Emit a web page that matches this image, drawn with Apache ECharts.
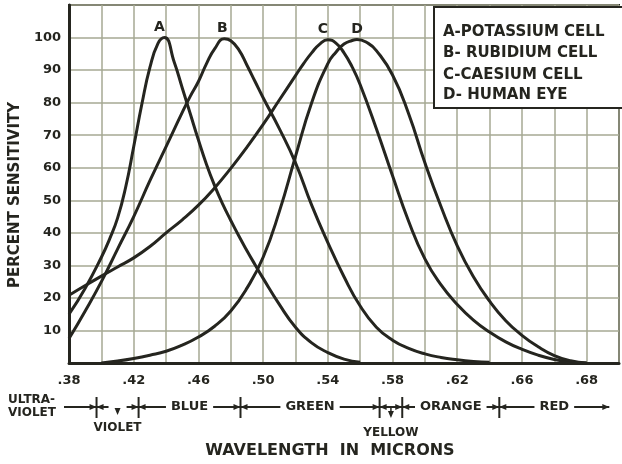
<!DOCTYPE html>
<html>
<head>
<meta charset="utf-8">
<script src="https://cdn.jsdelivr.net/npm/echarts@6/dist/echarts.min.js"></script>
<style>
  html, body { margin: 0; padding: 0; background: #fff; }
  #chart { width: 622px; height: 464px; }
</style>
</head>
<body>
<div id="chart"></div>
<script>
// [wavelength in microns, percent sensitivity]
const potassium = [
  [0.38, 15], [0.39, 23], [0.40, 32.5], [0.405, 38], [0.41, 44.5], [0.415, 54],
  [0.42, 66.5], [0.425, 79.5], [0.43, 90.8], [0.435, 98.2], [0.439, 100], [0.445, 92.5],
  [0.45, 84.5], [0.455, 76.5], [0.46, 68.5], [0.465, 61], [0.47, 54.5], [0.475, 48.8],
  [0.48, 43.8], [0.485, 39], [0.49, 34.5], [0.495, 30.2], [0.50, 26], [0.51, 18],
  [0.52, 11], [0.53, 6.2], [0.54, 3.2], [0.55, 1.2], [0.56, 0.2]
]
const rubidium = [
  [0.38, 7.5], [0.39, 16], [0.40, 25], [0.41, 35], [0.42, 45], [0.43, 56],
  [0.44, 66.5], [0.45, 77], [0.455, 82], [0.46, 86.5], [0.465, 92], [0.47, 96.5],
  [0.476, 99.6], [0.48, 99], [0.485, 96.2], [0.49, 91.5], [0.495, 86.5], [0.50, 81.5],
  [0.51, 72], [0.52, 61.5], [0.53, 48.5], [0.54, 37], [0.55, 26.5], [0.56, 17.5],
  [0.57, 11], [0.58, 7], [0.59, 4.5], [0.60, 2.8], [0.61, 1.7], [0.62, 1],
  [0.63, 0.5], [0.64, 0.2]
]
const caesium = [
  [0.38, 20.8], [0.39, 23.8], [0.40, 26.7], [0.41, 29.5], [0.42, 32.3], [0.43, 35.8],
  [0.44, 40], [0.45, 44], [0.46, 48.5], [0.47, 53.8], [0.48, 59.8], [0.49, 66.3],
  [0.50, 73.3], [0.51, 80.8], [0.52, 88.3], [0.525, 92], [0.53, 95.3], [0.535, 98],
  [0.54, 99.3], [0.545, 98.3], [0.55, 95.3], [0.555, 91], [0.56, 85.5], [0.57, 72],
  [0.58, 57.5], [0.59, 43.5], [0.60, 32], [0.61, 24], [0.62, 18], [0.63, 13.2],
  [0.64, 9.5], [0.65, 6.5], [0.66, 4.2], [0.67, 2.4], [0.68, 1.1], [0.69, 0.3], [0.70, 0]
]
const humanEye = [
  [0.40, 0], [0.41, 0.6], [0.42, 1.4], [0.43, 2.4], [0.44, 3.6], [0.45, 5.5],
  [0.46, 8], [0.47, 11.3], [0.48, 16], [0.49, 23], [0.50, 32.5], [0.51, 46.5],
  [0.52, 63.5], [0.53, 80], [0.54, 92], [0.545, 95.5], [0.55, 98], [0.555, 99.1],
  [0.558, 99.4], [0.565, 98.2], [0.57, 96], [0.58, 88.5], [0.59, 76.5], [0.60, 61.5],
  [0.61, 48], [0.62, 36], [0.63, 26.5], [0.64, 19], [0.65, 13], [0.66, 8.5],
  [0.67, 5], [0.68, 2.3], [0.69, 0.7], [0.70, 0]
]

const curveLetters = ['A', 'B', 'C', 'D']
const legendLines = ['A-POTASSIUM CELL', 'B- RUBIDIUM CELL', 'C-CAESIUM CELL', 'D- HUMAN EYE']
// printed under every other grid line, starting at .38 (the last one is printed .68 on the plate)
const xTickLabels = ['.38', '.42', '.46', '.50', '.54', '.58', '.62', '.66', '.68']

// colour bands along the bottom, wavelengths of the boundary marks
const bandEdges = [0.397, 0.423, 0.486, 0.572, 0.586, 0.646]
const bandNames = ['BLUE', 'GREEN', 'ORANGE', 'RED']
const bandFrom = [0.423, 0.486, 0.586, 0.646]
const bandTo = [0.486, 0.572, 0.646, 0.714]

const ink = '#25251f'
const gridInk = '#a6a893'
const font = 'DejaVu Sans'

const chart = echarts.init(document.getElementById('chart'))

const labelOffsets = [[-5, 0], [-2, 0], [-5, 0], [0, 0]]
const allData = [potassium, rubidium, caesium, humanEye]

const option = {
  animation: false,
  backgroundColor: '#fff',
  grid: {
    left: 66,
    top: 5,
    width: 563,
    height: 358,
    show: true,
    borderColor: ink,
    borderWidth: 2,
  },
  xAxis: {
    type: 'value',
    min: 0.38,
    max: 0.72,
    interval: 0.02,
    axisLine: { show: true, onZero: false, lineStyle: { color: ink, width: 3 } },
    axisTick: { show: false },
    splitLine: { show: true, lineStyle: { color: gridInk, width: 1.5 } },
    axisLabel: {
      color: ink,
      fontSize: 13,
      fontWeight: 'bold',
      fontFamily: font,
      margin: 11,
      showMinLabel: true,
      showMaxLabel: true,
      formatter: (v) => {
        const k = Math.round((v - 0.38) / 0.02)
        return k % 2 === 0 ? xTickLabels[k / 2] || '' : ''
      },
    },
  },
  yAxis: {
    type: 'value',
    min: 0,
    max: 110,
    interval: 10,
    name: 'PERCENT SENSITIVITY',
    nameLocation: 'middle',
    nameGap: 41,
    nameRotate: 90,
    nameTextStyle: { color: ink, fontSize: 15, fontWeight: 'bold', fontFamily: font, padding: [0, 22, 0, 0] },
    axisLine: { show: true, lineStyle: { color: ink, width: 3 } },
    axisTick: { show: false },
    splitLine: { show: true, lineStyle: { color: gridInk, width: 1.5 } },
    axisLabel: {
      color: ink,
      fontSize: 13,
      fontWeight: 'bold',
      fontFamily: font,
      margin: 8,
      formatter: (v) => (v > 0 && v <= 100 ? String(v) : ''),
    },
  },
  series: allData.map((data, i) => ({
    name: legendLines[i],
    type: 'line',
    data,
    showSymbol: false,
    smooth: 0.5,
    lineStyle: { color: ink, width: 3 },
    markPoint: {
      symbol: 'circle',
      symbolSize: 2,
      itemStyle: { color: 'rgba(0,0,0,0)' },
      label: {
        show: true,
        formatter: curveLetters[i],
        position: 'top',
        distance: 2,
        offset: labelOffsets[i],
        color: ink,
        fontSize: 14,
        fontWeight: 'bold',
        fontFamily: font,
      },
      data: [{ type: 'max', valueDim: 'y' }],
    },
  })),
}

chart.setOption(option)

// legend box and colour bands drawn on top
const rowY = 407
const px = (w) => chart.convertToPixel({ gridIndex: 0 }, [w, 0])[0]
const line = (x1, y1, x2, y2, w) => ({
  type: 'line',
  shape: { x1, y1, x2, y2 },
  style: { stroke: ink, lineWidth: w || 2 },
  silent: true,
})
const tri = (x, y, dx, dy) => ({
  type: 'polygon',
  shape: { points: [[x, y], [x - dx * 7 - dy * 3, y - dy * 7 - dx * 3], [x - dx * 7 + dy * 3, y - dy * 7 + dx * 3]] },
  style: { fill: ink },
  silent: true,
})
const txt = (text, x, y, size, align, bg) => ({
  type: 'text',
  x,
  y,
  z: 10,
  style: {
    text,
    fill: ink,
    fontSize: size,
    fontWeight: 'bold',
    fontFamily: font,
    align,
    verticalAlign: 'middle',
    backgroundColor: bg ? '#fff' : undefined,
    padding: bg ? [0, 5] : 0,
  },
  silent: true,
})

const edges = bandEdges.map(px)
const els = []

// legend
els.push({
  type: 'rect',
  shape: { x: 434, y: 7, width: 200, height: 101 },
  style: { fill: '#fff', stroke: ink, lineWidth: 2 },
  silent: true,
})
legendLines.forEach((t, i) => els.push(txt(t, 443, [32, 53, 75, 95][i], 15, 'left')))

// ultra-violet
els.push(txt('ULTRA-', 8, 400, 12, 'left'))
els.push(txt('VIOLET', 8, 413, 12, 'left'))
els.push(line(64, rowY, edges[0], rowY))

// boundary marks: tick with arrows pointing in from both sides
edges.forEach((e) => {
  els.push(line(e, rowY - 10, e, rowY + 11))
  els.push(line(e - 12, rowY, e + 12, rowY))
  els.push(tri(e, rowY, 1, 0))
  els.push(tri(e, rowY, -1, 0))
})

// named bands
bandNames.forEach((name, i) => {
  const a = px(bandFrom[i])
  const b = px(bandTo[i])
  els.push(line(a, rowY, b, rowY))
  els.push(txt(name, (a + b) / 2, rowY, 13, 'center', true))
})
els.push(tri(px(bandTo[3]), rowY, 1, 0))

// narrow bands labelled underneath
const violetX = (edges[0] + edges[1]) / 2
els.push(tri(violetX, rowY + 8, 0, 1))
els.push(txt('VIOLET', violetX, 428, 12, 'center'))
const yellowX = (edges[3] + edges[4]) / 2
els.push(line(yellowX, rowY + 1, yellowX, rowY + 8, 1.5))
els.push(tri(yellowX, rowY + 11, 0, 1))
els.push(txt('YELLOW', yellowX, 433, 12, 'center'))

els.push(txt('WAVELENGTH  IN  MICRONS', 330, 451, 16, 'center'))

chart.setOption({ graphic: { elements: els } })
</script>
</body>
</html>
